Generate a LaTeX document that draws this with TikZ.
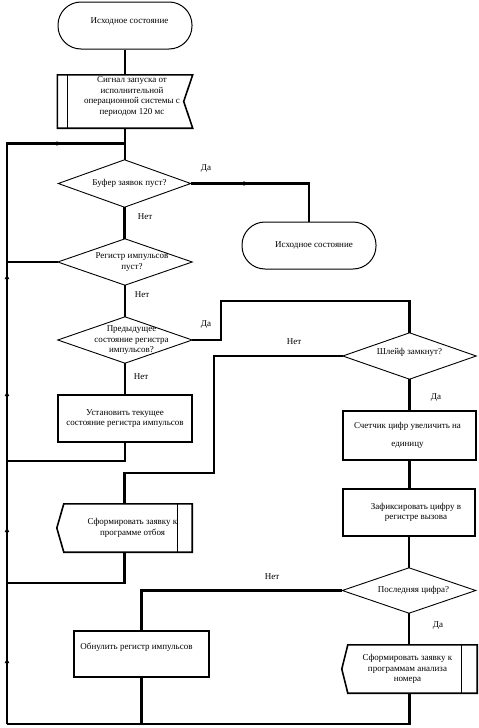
\documentclass[tikz,border=0pt]{standalone}
\usepackage{fontspec}
\setmainfont{Liberation Serif}
\usetikzlibrary{arrows.meta,decorations.markings,calc}
\newcommand\blk[3]{\hspace*{#1}\raisebox{#2}[\height][\depth]{\begin{tabular}{@{}c@{}}#3\end{tabular}}}
\tikzset{
  every node/.style={font=\fontsize{9}{10.5}\selectfont},
  flow/.style={line width=2.8pt},
  term/.style={draw, line width=1pt, rounded corners=23pt, minimum width=134pt, minimum height=47pt, inner sep=0pt},
  proc/.style={draw, line width=1.6pt, inner sep=0pt},
  dec/.style={inner sep=0pt},
  plain/.style={inner sep=0pt},
  lbl/.style={inner sep=0pt},
  mytip/.tip={Triangle[length=4pt,width=4.5pt]}
}
\begin{document}
\begin{tikzpicture}[x=1pt,y=-1pt]
\useasboundingbox (0,0) rectangle (479,728);

% nodes
\node[term] (t1) at (125,25.5) {\blk{9pt}{4pt}{Исходное состояние}};
\node[plain, minimum width=135pt, minimum height=53pt] (sig) at (125,101.5)
  {\blk{14pt}{5pt}{Сигнал запуска от\\исполнительной\\операционной системы с\\периодом 120 мс}};
\node[dec, minimum width=132pt, minimum height=47pt] (d1) at (124.5,183.5) {\blk{10pt}{0pt}{Буфер заявок пуст?}};
\node[term] (t2) at (309,245.5) {\blk{10pt}{0pt}{Исходное состояние}};
\node[dec, minimum width=134pt, minimum height=46pt] (d2) at (125,262) {\blk{14pt}{0pt}{Регистр импульсов\\пуст?}};
\node[dec, minimum width=134pt, minimum height=46pt] (d3) at (125,340) {\blk{13pt}{0pt}{Предыдущее\\состояние регистра\\импульсов?}};
\node[proc, minimum width=134pt, minimum height=47pt] (p1) at (125,418.5) {\blk{0pt}{0pt}{Установить текущее\\состояние регистра импульсов}};
\node[dec, minimum width=133pt, minimum height=46pt] (dS) at (409.5,356) {\blk{0pt}{4pt}{Шлейф замкнут?}};
\node[proc, minimum width=133pt, minimum height=49pt] (pC) at (409.5,435.5) {\blk{-4pt}{0pt}{Счетчик цифр увеличить на\\[7pt]единицу}};
\node[proc, minimum width=132pt, minimum height=47pt] (pZ) at (409,512.5) {\blk{14pt}{0pt}{Зафиксировать цифру в\\регистре вызова}};
\node[dec, minimum width=133pt, minimum height=45pt] (dP) at (409,590.5) {\blk{9pt}{0pt}{Последняя цифра?}};
\node[proc, line width=1.2pt, minimum width=135pt, minimum height=46pt] (pO) at (141.5,654) {\blk{-10pt}{7pt}{Обнулить регистр импульсов}};
\node[plain, minimum width=135pt, minimum height=48pt] (oA) at (409.5,669) {\blk{-4pt}{0pt}{Сформировать заявку к\\программам анализа\\номера}};
\node[plain, minimum width=135pt, minimum height=48pt] (oB) at (124.5,528) {\blk{16pt}{0pt}{Сформировать заявку к\\программе отбоя}};

% shapes drawn from node anchors
\foreach \n in {d1,d2,d3,dS,dP}
  \draw[line width=0.9pt] (\n.north) -- (\n.east) -- (\n.south) -- (\n.west) -- cycle;
\draw[line width=1.6pt] (sig.north west) -- (sig.north east) -- ($(sig.east)+(-9,0)$) -- (sig.south east) -- (sig.south west) -- cycle;
\draw[line width=1.2pt] ($(sig.north west)+(10,0)$) -- ($(sig.south west)+(10,0)$);
\draw[line width=1.6pt] ($(oB.north west)+(7,0)$) -- (oB.north east) -- (oB.south east) -- ($(oB.south west)+(7,0)$) -- (oB.west) -- cycle;
\draw[line width=1.2pt] ($(oB.north east)+(-15,0)$) -- ($(oB.south east)+(-15,0)$);
\draw[line width=1.6pt] ($(oA.north west)+(6,0)$) -- (oA.north east) -- (oA.south east) -- ($(oA.south west)+(6,0)$) -- (oA.west) -- cycle;
\draw[line width=1.2pt] ($(oA.north east)+(-16,0)$) -- ($(oA.south east)+(-16,0)$);

% coordinates
\coordinate (busB) at (7,724);
\coordinate (busT) at (7,143.5);
\coordinate (J1) at (125,143.5);
\coordinate (c1) at (221,301);
\coordinate (c2) at (214,473);
\coordinate (c3) at (7,461);
\coordinate (c4) at (7,583);

% connectors
\draw[flow] (t1.south) -- (sig.north);
\draw[flow] (sig.south) -- (sig.south |- d1.north);
\draw[flow, postaction={decorate}, decoration={markings,
   mark=at position 65pt with {\arrow{mytip}},
   mark=at position 196pt with {\arrow{mytip}},
   mark=at position 332pt with {\arrow{mytip}},
   mark=at position 449pt with {\arrow{mytip}},
   mark=at position 634pt with {\arrow{mytip}}}]
   (busB) -- (busT) -- (J1);
\draw[flow, postaction={decorate}, decoration={markings, mark=at position 57pt with {\arrow{mytip}}}]
   (d1.east) -| (t2.north);
\draw[flow] (d1.south) -- (d1.south |- d2.north);
\draw[flow] (d2.west) -- (d2.west -| busB);
\draw[flow] (d2.south) -- (d3.north);
\draw[flow] (d3.east) -| (c1) -| (dS.north);
\draw[flow] (d3.south) -- (p1.north);
\draw[flow] (p1.south) |- (c3);
\draw[flow] (dS.west) -| (c2) -| (oB.north);
\draw[flow] (dS.south) -- (dS.south |- pC.north);
\draw[flow] (pC.south) -- (pC.south |- pZ.north);
\draw[flow] (pZ.south) -- (pZ.south |- dP.north);
\draw[flow] (dP.west) -| (pO.north);
\draw[flow] (dP.south) -- (dP.south |- oA.north);
\draw[flow] (oA.south) |- (busB);
\draw[flow] (pO.south) -- (pO.south |- busB);
\draw[flow] (oB.south) |- (c4);

% labels
\node[lbl] (l1) at (206,169) {Да};
\node[lbl] (l2) at (145,217) {Нет};
\node[lbl] (l3) at (142,295) {Нет};
\node[lbl] (l4) at (206,325) {Да};
\node[lbl] (l5) at (141,377) {Нет};
\node[lbl] (l6) at (294,342) {Нет};
\node[lbl] (l7) at (436,398) {Да};
\node[lbl] (l8) at (272,577) {Нет};
\node[lbl] (l9) at (438,626) {Да};
\end{tikzpicture}
\end{document}
